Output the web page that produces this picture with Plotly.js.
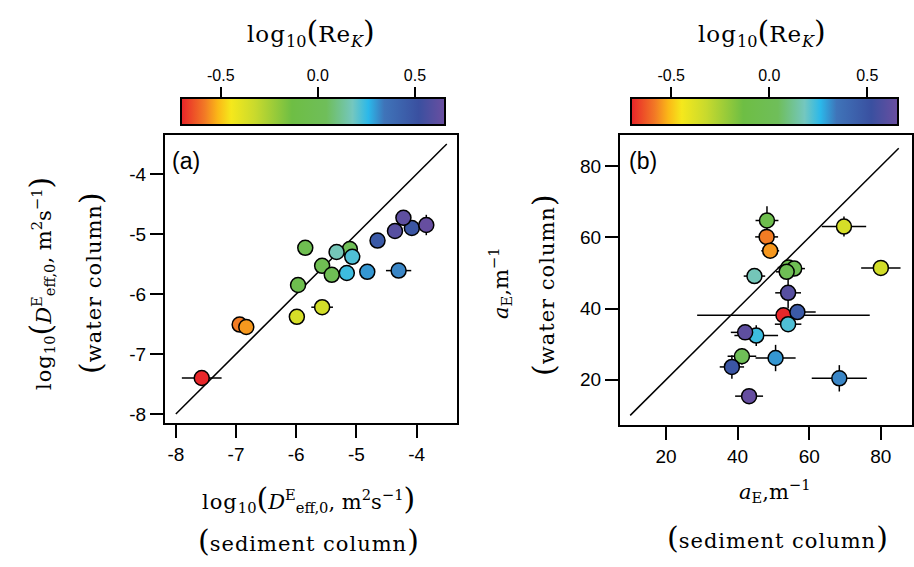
<!DOCTYPE html>
<html><head><meta charset="utf-8">
<script src="https://cdn.plot.ly/plotly-3.0.1.min.js"></script>
<style>html,body{margin:0;padding:0;background:#fff}</style>
</head><body><div id="chart" style="width:914px;height:567px"></div>
<script>
// ---- data (one entry per sample) ----
const logReK   = [-0.70,-0.58,-0.55,-0.36,-0.35,-0.05,-0.03,-0.01,0.00,0.02,0.17,0.22,0.24,0.30,0.32,0.47,0.49,0.60,0.62,0.64];
const dSed     = [-7.57,-6.94,-6.83,-5.99,-5.57,-5.97,-5.85,-5.57,-5.41,-5.11,-5.33,-5.07,-5.16,-4.82,-4.30,-4.65,-4.08,-4.36,-4.22,-3.84];
const dWat     = [-7.40,-6.51,-6.55,-6.38,-6.22,-5.85,-5.23,-5.53,-5.68,-5.25,-5.30,-5.38,-5.65,-5.63,-5.61,-5.11,-4.90,-4.95,-4.73,-4.85];
const dSedErr  = [0.33,0,0,0.08,0.18,0,0,0,0,0,0,0,0,0.05,0.21,0,0,0,0.10,0.03];
const dWatErr  = [0,0,0,0,0,0,0,0,0,0,0,0,0,0,0,0,0,0,0.07,0.17];
const aSed     = [52.8,48.1,49.1,69.7,80.0,48.2,54.2,55.8,53.7,41.2,44.7,54.1,45.2,50.6,68.4,56.7,38.4,54.1,42.1,43.2];
const aWat     = [38.1,60.1,56.2,63.0,51.4,64.7,51.5,51.2,50.3,26.6,49.1,35.6,32.4,26.1,20.4,39.0,23.6,44.4,33.3,15.4];
const aSedErr  = [24.1,3.2,2.5,6.2,5.5,3.2,3.0,3.0,3.0,4.0,3.0,3.7,6.1,5.6,7.7,5.1,3.4,3.6,4.0,3.9];
const aWatErr  = [0,0,0,2.8,1.0,4.0,0,0,0,2.3,0,0,2.9,3.7,3.7,0,3.3,4.4,0,0];
const lineA    = [-8, -3.5];
const lineB    = [10, 85];
const ticksA   = [-8,-7,-6,-5,-4];
const ticksAtxt= ['-8','-7','-6','-5','-4'];
const ticksB   = [20,40,60,80];
const ticksBtxt= ['20','40','60','80'];
const cbTicks  = [-0.5, 0, 0.5];
const cbTickTxt= ['-0.5','0.0','0.5'];
const cRange   = [-0.705, 0.655];

// ---- style ----
const W = 914, H = 567;
const px = v => v / W, py = v => 1 - v / H;
const csPos = [0, 0.09, 0.14, 0.19, 0.28, 0.42, 0.55, 0.65, 0.71, 0.77, 0.90, 1];
const csCol = ['#e8232a','#f27a25','#fbb817','#f5e81c','#c9da2d','#6ebe44','#6fbe5a','#74c7bf','#2bb8ea','#3f74b9','#3a50a0','#6b4ea0'];
const colorscale = csPos.map((p, i) => [p, csCol[i]]);
const serif = 'DejaVu Serif, serif';
const sans = 'Liberation Sans, Arial, sans-serif';

function cbar(cx, len) {
  return {orientation:'h', x:px(cx), xanchor:'center', y:py(98), yanchor:'top',
    len:len/W, lenmode:'fraction', thickness:27, thicknessmode:'pixels',
    xpad:0, ypad:0, outlinewidth:2, outlinecolor:'#000', bordercolor:'rgba(0,0,0,0)',
    showticklabels:false, ticks:'', tickvals:[]};
}
function pts(x, y, ex, ey, xa, ya, cb) {
  return {type:'scatter', mode:'markers', x:x, y:y, xaxis:xa, yaxis:ya,
    error_x:{type:'data', array:ex, visible:true, color:'#000', thickness:1.5, width:0},
    error_y:{type:'data', array:ey, visible:true, color:'#000', thickness:1.5, width:0},
    marker:{size:15, color:logReK, colorscale:colorscale, cmin:cRange[0], cmax:cRange[1],
      showscale:true, colorbar:cb, line:{color:'#000', width:1.5}},
    hoverinfo:'skip'};
}
const data = [
  {type:'scatter', mode:'lines', x:lineA, y:lineA, xaxis:'x', yaxis:'y', line:{color:'#000', width:1.5}, hoverinfo:'skip'},
  {type:'scatter', mode:'lines', x:lineB, y:lineB, xaxis:'x2', yaxis:'y2', line:{color:'#000', width:1.5}, hoverinfo:'skip'},
  pts(dSed, dWat, dSedErr, dWatErr, 'x', 'y', cbar(313, 264)),
  pts(aSed, aWat, aSedErr, aWatErr, 'x2', 'y2', cbar(764.5, 267)),
  {type:'scatter', mode:'markers', x:[], y:[], xaxis:'x3', yaxis:'y3', hoverinfo:'skip'},
  {type:'scatter', mode:'markers', x:[], y:[], xaxis:'x4', yaxis:'y4', hoverinfo:'skip'}
];
const axBase = {ticks:'outside', ticklen:13, tickwidth:2, tickcolor:'#000', showline:true, mirror:true,
  linewidth:2, linecolor:'#000', showgrid:false, zeroline:false, tickfont:{family:sans, size:19, color:'#000'}, fixedrange:true};
const cbAx = {side:'top', ticks:'outside', ticklen:10, tickwidth:2, tickcolor:'#000', showline:false,
  showgrid:false, zeroline:false, range:cRange, tickvals:cbTicks, ticktext:cbTickTxt,
  tickfont:{family:sans, size:16, color:'#000'}};
function ann(text, x, y, opts) {
  return Object.assign({text:text, x:px(x), y:py(y), xref:'paper', yref:'paper', showarrow:false,
    xanchor:'center', yanchor:'middle', font:{family:serif, size:21, color:'#000'}}, opts || {});
}
const P = s => '<span style="font-size:30px">' + s + '</span>';
const LS = s => '<span style="letter-spacing:1px">' + s + '</span>';
const cbTitle = LS('log') + '<sub>10</sub>' + P('(') + LS('Re') + '<sub><i>K</i></sub>' + P(')');
const dTitle = LS('log') + '<sub>10</sub>' + P('(') + '<i>D</i><sup>E</sup><sub>eff,0</sub>, m<sup>2</sup>s<sup>−1</sup>' + P(')');
const aTitle = '<i>a</i><sub>E</sub>,m<sup>−1</sup>';
const layout = {
  width:W, height:H, margin:{l:0, r:0, t:0, b:0, autoexpand:false},
  paper_bgcolor:'#fff', plot_bgcolor:'rgba(0,0,0,0)', showlegend:false,
  font:{family:sans, size:18, color:'#000'},
  xaxis:Object.assign({}, axBase, {domain:[px(165), px(457)], range:[-8.18,-3.33], tickvals:ticksA, ticktext:ticksAtxt, anchor:'y'}),
  yaxis:Object.assign({}, axBase, {domain:[py(423), py(135)], range:[-8.15,-3.35], tickvals:ticksA, ticktext:ticksAtxt, anchor:'x'}),
  xaxis2:Object.assign({}, axBase, {domain:[px(620), px(912)], range:[7.15,88.7], tickvals:ticksB, ticktext:ticksBtxt, anchor:'y2'}),
  yaxis2:Object.assign({}, axBase, {domain:[py(425), py(135)], range:[7.3,88.7], tickvals:ticksB, ticktext:ticksBtxt, anchor:'x2'}),
  xaxis3:Object.assign({}, cbAx, {domain:[px(181), px(445)], anchor:'y3'}),
  yaxis3:{domain:[py(125), py(98)], range:[0,1], visible:false, anchor:'x3'},
  xaxis4:Object.assign({}, cbAx, {domain:[px(631), px(897.7)], anchor:'y4'}),
  yaxis4:{domain:[py(125), py(98)], range:[0,1], visible:false, anchor:'x4'},
  annotations:[
    ann(cbTitle, 311, 32, {font:{family:serif, size:23, color:'#000'}}),
    ann(cbTitle, 762, 32, {font:{family:serif, size:23, color:'#000'}}),
    ann('(a)', 170, 161, {xanchor:'left', font:{family:sans, size:23, color:'#000'}}),
    ann('(b)', 627, 161, {xanchor:'left', font:{family:sans, size:23, color:'#000'}}),
    ann(dTitle, 308, 498),
    ann(P('(') + LS('sediment column') + P(')'), 308, 540),
    ann(dTitle, 40, 284, {textangle:-90}),
    ann(P('(') + LS('water column') + P(')'), 90, 283, {textangle:-90}),
    ann(aTitle, 775, 491),
    ann(P('(') + LS('sediment column') + P(')'), 777, 537),
    ann(aTitle, 500, 283, {textangle:-90}),
    ann(P('(') + LS('water column') + P(')'), 543, 285, {textangle:-90})
  ]
};
Plotly.newPlot('chart', data, layout, {staticPlot:true, displayModeBar:false});
</script></body></html>
